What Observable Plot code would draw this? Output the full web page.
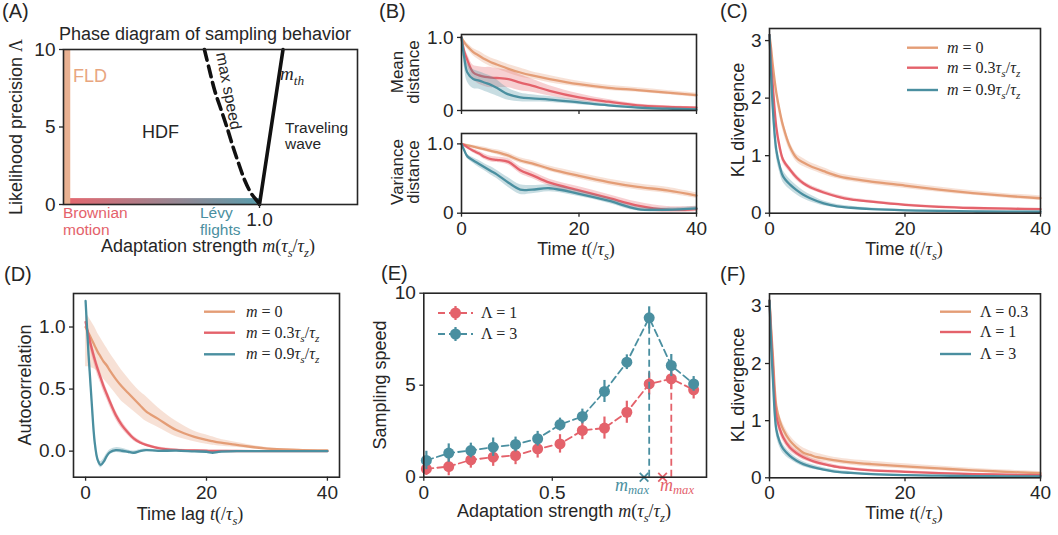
<!DOCTYPE html>
<html><head><meta charset="utf-8">
<script src="https://cdn.jsdelivr.net/npm/d3@7"></script>
<script src="https://cdn.jsdelivr.net/npm/@observablehq/plot@0.6"></script>
<style>
body{margin:0;background:#fff;}
#fig{position:relative;width:1058px;height:535px;overflow:hidden;background:#fff;}
#fig svg{position:absolute;}
</style>
</head><body><div id="fig"></div>
<script>
// ---------------- DATA ----------------
// Panel A: phase diagram
const fldM = [0, 0.037], fldLam = [0, 10];
const regimeM = [0, 1.0], regimeLam = [0, 0.38];
const maxSpeedM = [0.719, 0.745, 0.771, 0.805, 0.839, 0.865, 0.894, 0.925, 0.959, 0.993, 1.0];
const maxSpeedLam = [10, 8.66, 7.37, 6.08, 4.78, 3.71, 2.63, 1.55, 0.69, 0.15, 0];
const mthM = [1.0, 1.12], mthLam = [0, 10];

// Panel B: mean / variance distance
const tB = [0, 0.5, 1, 2, 3, 4, 5, 6, 8, 10, 12, 15, 20, 25, 30, 35, 40];
const meanD_m0 = [1.0, 0.93, 0.88, 0.80, 0.75, 0.70, 0.66, 0.63, 0.57, 0.52, 0.48, 0.43, 0.36, 0.31, 0.28, 0.245, 0.21];
const meanE_m0 = [0, 0.03, 0.04, 0.05, 0.06, 0.06, 0.06, 0.06, 0.06, 0.06, 0.05, 0.05, 0.04, 0.035, 0.03, 0.03, 0.03];
const meanD_m3 = [1.0, 0.80, 0.69, 0.52, 0.48, 0.46, 0.45, 0.445, 0.43, 0.38, 0.34, 0.27, 0.18, 0.12, 0.07, 0.05, 0.04];
const meanE_m3 = [0, 0.05, 0.08, 0.10, 0.12, 0.13, 0.14, 0.13, 0.12, 0.11, 0.09, 0.07, 0.05, 0.03, 0.02, 0.015, 0.01];
const meanD_m9 = [1.0, 0.71, 0.52, 0.43, 0.41, 0.38, 0.35, 0.31, 0.22, 0.18, 0.165, 0.15, 0.11, 0.07, 0.04, 0.025, 0.015];
const meanE_m9 = [0, 0.12, 0.13, 0.13, 0.12, 0.12, 0.12, 0.11, 0.08, 0.06, 0.05, 0.04, 0.03, 0.02, 0.015, 0.01, 0.01];
const varD_m0 = [1.0, 0.99, 0.98, 0.96, 0.94, 0.92, 0.90, 0.88, 0.83, 0.76, 0.72, 0.64, 0.54, 0.45, 0.38, 0.33, 0.255];
const varE_m0 = [0, 0.01, 0.015, 0.02, 0.025, 0.03, 0.03, 0.035, 0.04, 0.04, 0.04, 0.04, 0.045, 0.045, 0.045, 0.045, 0.04];
const varD_m3 = [1.0, 0.98, 0.95, 0.90, 0.86, 0.81, 0.78, 0.77, 0.74, 0.62, 0.55, 0.44, 0.33, 0.22, 0.11, 0.05, 0.06];
const varE_m3 = [0, 0.01, 0.02, 0.03, 0.035, 0.04, 0.04, 0.04, 0.045, 0.05, 0.05, 0.05, 0.05, 0.05, 0.05, 0.045, 0.04];
const varD_m9 = [1.0, 0.90, 0.82, 0.76, 0.71, 0.66, 0.61, 0.56, 0.44, 0.34, 0.34, 0.36, 0.28, 0.18, 0.06, 0.05, 0.07];
const varE_m9 = [0, 0.02, 0.03, 0.04, 0.05, 0.05, 0.06, 0.06, 0.07, 0.07, 0.06, 0.05, 0.04, 0.035, 0.03, 0.025, 0.025];

// Panel C: KL divergence vs m
const tC = [0, 0.25, 0.5, 1, 1.5, 2, 3, 4, 5, 6, 8, 10, 12, 15, 20, 25, 30, 35, 40];
const klC_m0 = [3.1, 2.85, 2.56, 2.1, 1.78, 1.52, 1.16, 0.96, 0.88, 0.82, 0.73, 0.65, 0.60, 0.55, 0.48, 0.41, 0.35, 0.30, 0.26];
const klCE_m0 = [0.03, 0.08, 0.1, 0.1, 0.1, 0.09, 0.08, 0.07, 0.07, 0.06, 0.06, 0.05, 0.05, 0.05, 0.05, 0.045, 0.04, 0.04, 0.04];
const klC_m3 = [3.1, 2.6, 2.2, 1.5, 1.15, 0.93, 0.76, 0.62, 0.52, 0.45, 0.36, 0.29, 0.24, 0.20, 0.145, 0.11, 0.09, 0.08, 0.07];
const klCE_m3 = [0.03, 0.08, 0.08, 0.07, 0.06, 0.06, 0.05, 0.05, 0.04, 0.04, 0.035, 0.03, 0.03, 0.025, 0.02, 0.02, 0.015, 0.015, 0.015];
const klC_m9 = [3.1, 2.4, 1.8, 1.1, 0.82, 0.64, 0.50, 0.40, 0.32, 0.26, 0.17, 0.12, 0.095, 0.07, 0.05, 0.04, 0.03, 0.027, 0.025];
const klCE_m9 = [0.03, 0.1, 0.12, 0.12, 0.11, 0.1, 0.09, 0.08, 0.07, 0.06, 0.04, 0.03, 0.025, 0.02, 0.015, 0.012, 0.01, 0.01, 0.01];

// Panel D: autocorrelation
const tD = [0, 0.5, 1, 1.5, 2, 2.5, 3, 3.5, 4, 5, 6, 7, 8, 9, 10, 12, 15, 18, 20, 21, 22, 25, 30, 35, 40];
const acD_m0 = [1.0, 0.95, 0.90, 0.85, 0.80, 0.76, 0.72, 0.69, 0.65, 0.58, 0.52, 0.47, 0.42, 0.37, 0.32, 0.26, 0.17, 0.115, 0.09, 0.08, 0.07, 0.05, 0.02, 0.01, 0.005];
const acLo_m0 = [0.68, 0.68, 0.67, 0.66, 0.64, 0.61, 0.58, 0.55, 0.52, 0.46, 0.40, 0.36, 0.32, 0.28, 0.24, 0.19, 0.115, 0.075, 0.055, 0.048, 0.042, 0.03, 0.012, 0.005, 0.002];
const acHi_m0 = [1.12, 1.08, 1.04, 1.0, 0.95, 0.91, 0.87, 0.83, 0.79, 0.72, 0.65, 0.59, 0.53, 0.48, 0.44, 0.35, 0.24, 0.16, 0.13, 0.115, 0.1, 0.07, 0.03, 0.015, 0.008];
const acD_m3 = [1.04, 0.93, 0.83, 0.74, 0.66, 0.59, 0.52, 0.46, 0.40, 0.29, 0.21, 0.15, 0.10, 0.07, 0.05, 0.025, 0.01, 0.005, 0.003, 0.002, 0.002, 0.001, 0, 0, 0];
const acE_m3 = [0.05, 0.05, 0.05, 0.05, 0.05, 0.045, 0.045, 0.04, 0.04, 0.035, 0.03, 0.025, 0.02, 0.015, 0.012, 0.01, 0.008, 0.006, 0.005, 0.005, 0.005, 0.004, 0.003, 0.003, 0.003];
const acD_m9 = [1.21, 0.77, 0.40, 0.075, -0.07, -0.11, -0.085, -0.04, -0.01, 0.008, 0.003, -0.005, -0.013, 0.0, 0.008, 0.002, 0.004, -0.002, -0.005, -0.013, -0.006, 0.0, 0.0, 0.0, 0.0];
const acE_m9 = [0.01, 0.02, 0.02, 0.02, 0.02, 0.025, 0.025, 0.02, 0.02, 0.02, 0.02, 0.015, 0.015, 0.012, 0.01, 0.008, 0.006, 0.005, 0.005, 0.005, 0.005, 0.004, 0.003, 0.003, 0.003];

// Panel E: sampling speed
const mE = [0.01, 0.097, 0.183, 0.27, 0.357, 0.443, 0.53, 0.617, 0.703, 0.79, 0.877, 0.963, 1.05];
const speedL1 = [0.45, 0.58, 0.94, 1.09, 1.18, 1.54, 1.81, 2.54, 2.67, 3.53, 5.07, 5.35, 4.75];
const speedErrL1 = [0.35, 0.5, 0.45, 0.5, 0.5, 0.5, 0.5, 0.5, 0.6, 0.6, 0.6, 0.6, 0.5];
const speedL3 = [0.91, 1.31, 1.45, 1.63, 1.78, 2.09, 2.86, 3.30, 4.66, 6.25, 8.66, 6.07, 5.07];
const speedErrL3 = [0.5, 0.5, 0.4, 0.5, 0.4, 0.4, 0.35, 0.4, 0.6, 0.4, 0.6, 0.6, 0.4];
const mmaxTheoryL1 = [0.929], mmaxTheoryL3 = [0.857];

// Panel F: KL divergence vs Lambda
const tF = [0, 0.25, 0.5, 1, 1.5, 2, 3, 4, 5, 6, 7, 8, 10, 12, 15, 20, 25, 30, 35, 40];
const klF_l03 = [3.1, 2.6, 2.14, 1.26, 1.0, 0.85, 0.65, 0.53, 0.44, 0.40, 0.36, 0.34, 0.30, 0.27, 0.24, 0.20, 0.165, 0.13, 0.105, 0.08];
const klFE_l03 = [0.05, 0.1, 0.12, 0.12, 0.11, 0.1, 0.09, 0.08, 0.08, 0.07, 0.07, 0.06, 0.05, 0.05, 0.05, 0.045, 0.04, 0.035, 0.03, 0.03];
const klF_l1 = [3.1, 2.5, 1.96, 1.09, 0.86, 0.71, 0.53, 0.43, 0.36, 0.31, 0.27, 0.24, 0.19, 0.16, 0.13, 0.105, 0.083, 0.064, 0.055, 0.047];
const klFE_l1 = [0.05, 0.1, 0.1, 0.09, 0.08, 0.07, 0.06, 0.05, 0.05, 0.04, 0.04, 0.035, 0.03, 0.025, 0.02, 0.02, 0.015, 0.015, 0.012, 0.01];
const klF_l3 = [3.1, 2.35, 1.73, 0.85, 0.63, 0.51, 0.385, 0.30, 0.24, 0.20, 0.17, 0.145, 0.105, 0.085, 0.064, 0.047, 0.037, 0.03, 0.026, 0.023];
const klFE_l3 = [0.05, 0.12, 0.12, 0.1, 0.09, 0.08, 0.06, 0.05, 0.045, 0.04, 0.035, 0.03, 0.025, 0.02, 0.015, 0.012, 0.01, 0.01, 0.008, 0.008];

// ---------------- STYLE ----------------
const ORANGE = "#e49d76", RED = "#e4626b", TEAL = "#4a8fa0", INK = "#262626";
const SANS = '"Liberation Sans", Arial, Helvetica, sans-serif';
const SERIF = '"Liberation Serif", "DejaVu Serif", serif';
const TICKFS = 19;
const fig = document.getElementById("fig");

const series = (t, v, e) => t.map((x, i) => ({t: x, v: v[i], lo: v[i] - e[i], hi: v[i] + e[i]}));
const seriesLH = (t, v, lo, hi) => t.map((x, i) => ({t: x, v: v[i], lo: lo[i], hi: hi[i]}));
const bandLine = (d, c, op = 0.3) => [
  Plot.areaY(d, {x: "t", y1: "lo", y2: "hi", fill: c, fillOpacity: op, curve: "catmull-rom"}),
  Plot.lineY(d, {x: "t", y: "v", stroke: c, strokeWidth: 2.3, curve: "catmull-rom"})
];
function place(svg, left, top) {
  svg.style.left = left + "px"; svg.style.top = top + "px";
  fig.appendChild(svg); return svg;
}
function frame() { return Plot.frame({stroke: INK, strokeWidth: 1.6}); }
function base(o) {
  return Object.assign({
    style: {fontFamily: SANS, fontSize: TICKFS + "px", color: INK, background: "transparent", overflow: "visible"}
  }, o);
}
const ax = (dir, o) => (dir === "x" ? Plot.axisX : Plot.axisY)(Object.assign({tickSize: 4, tickPadding: 4, strokeWidth: 1.3, tickFormat: d => String(d)}, o));

// ---------------- PANEL A ----------------
const fldRect = [{m1: fldM[0], m2: fldM[1], l1: fldLam[0], l2: fldLam[1]}];
const regRect = [{m1: regimeM[0], m2: regimeM[1], l1: regimeLam[0], l2: regimeLam[1]}];
const maxSpeed = maxSpeedM.map((m, i) => ({m, lam: maxSpeedLam[i]}));
const mth = mthM.map((m, i) => ({m, lam: mthLam[i]}));
const svgA = Plot.plot(base({
  width: 370, height: 260, marginLeft: 63, marginRight: 13, marginTop: 49, marginBottom: 56,
  x: {domain: [0, 1.5], label: null}, y: {domain: [0, 10], label: null},
  marks: [
    Plot.rect(regRect, {x1: "m1", x2: "m2", y1: "l1", y2: "l2", fill: "url(#gradA)"}),
    Plot.rect(fldRect, {x1: "m1", x2: "m2", y1: "l1", y2: "l2", fill: "#e9b192"}),
    Plot.line(maxSpeed, {x: "m", y: "lam", stroke: "#111", strokeWidth: 3.6, strokeDasharray: "11,6", curve: "catmull-rom"}),
    Plot.line(mth, {x: "m", y: "lam", stroke: "#111", strokeWidth: 3.6}),
    ax("y", {ticks: [0, 5, 10]}),
    ax("x", {ticks: [1.0], tickFormat: d => d.toFixed(1)}),
    frame()
  ]
}));
place(svgA, 0, 0);
{
  const defs = d3.select(svgA).insert("defs", ":first-child");
  const g = defs.append("linearGradient").attr("id", "gradA");
  g.append("stop").attr("offset", "0%").attr("stop-color", "#e8666e");
  g.append("stop").attr("offset", "100%").attr("stop-color", "#5a9dac");
}

// ---------------- PANEL B ----------------
const svgB1 = Plot.plot(base({
  width: 340, height: 120, marginLeft: 91, marginRight: 14, marginTop: 34, marginBottom: 10,
  x: {domain: [0, 40], label: null}, y: {domain: [0, 1.04], label: null},
  marks: [
    ...bandLine(series(tB, meanD_m0, meanE_m0), ORANGE),
    ...bandLine(series(tB, meanD_m3, meanE_m3), RED),
    ...bandLine(series(tB, meanD_m9, meanE_m9), TEAL),
    ax("y", {ticks: [0, 1], tickFormat: d => d === 0 ? "0" : "1.0"}),
    ax("x", {ticks: [0, 20, 40], tickFormat: () => ""}),
    frame()
  ]
}));
place(svgB1, 370, 0);
const svgB2 = Plot.plot(base({
  width: 340, height: 140, marginLeft: 91, marginRight: 14, marginTop: 13, marginBottom: 47.3,
  x: {domain: [0, 40], label: null}, y: {domain: [0, 1.15], label: null},
  marks: [
    ...bandLine(series(tB, varD_m0, varE_m0), ORANGE),
    ...bandLine(series(tB, varD_m3, varE_m3), RED),
    ...bandLine(series(tB, varD_m9, varE_m9), TEAL),
    ax("y", {ticks: [0, 1], tickFormat: d => d === 0 ? "0" : "1.0"}),
    ax("x", {ticks: [0, 20, 40]}),
    frame()
  ]
}));
place(svgB2, 370, 120);

// ---------------- PANEL C ----------------
place(Plot.plot(base({
  width: 348, height: 260, marginLeft: 59, marginRight: 18, marginTop: 28, marginBottom: 47.3,
  x: {domain: [0, 40], label: null}, y: {domain: [0, 3.21], label: null},
  marks: [
    ...bandLine(series(tC, klC_m0, klCE_m0), ORANGE),
    ...bandLine(series(tC, klC_m3, klCE_m3), RED),
    ...bandLine(series(tC, klC_m9, klCE_m9), TEAL),
    ax("y", {ticks: [0, 1, 2, 3]}),
    ax("x", {ticks: [0, 20, 40]}),
    frame()
  ]
})), 710, 0);

// ---------------- PANEL D ----------------
place(Plot.plot(base({
  width: 370, height: 275, marginLeft: 73, marginRight: 31, marginTop: 33, marginBottom: 58.3,
  x: {domain: [-2, 42], label: null}, y: {domain: [-0.21, 1.27], label: null},
  marks: [
    ...bandLine(seriesLH(tD, acD_m0, acLo_m0, acHi_m0), ORANGE),
    ...bandLine(series(tD, acD_m3, acE_m3), RED),
    ...bandLine(series(tD, acD_m9, acE_m9), TEAL),
    ax("y", {ticks: [0, 0.5, 1.0], tickFormat: d3.format(".1f")}),
    ax("x", {ticks: [0, 20, 40]}),
    frame()
  ]
})), 0, 260);

// ---------------- PANEL E ----------------
const ptsE = (s, e) => mE.map((m, i) => ({m, s: s[i], lo: s[i] - e[i], hi: s[i] + e[i]}));
const peak = d => d.reduce((a, b) => (b.s > a.s ? b : a));
const e1 = ptsE(speedL1, speedErrL1), e3 = ptsE(speedL3, speedErrL3);
const speedMarks = (d, c) => [
  Plot.line(d, {x: "m", y: "s", stroke: c, strokeWidth: 1.8, strokeDasharray: "7,4"}),
  Plot.ruleX(d, {x: "m", y1: "lo", y2: "hi", stroke: c, strokeWidth: 2.2}),
  Plot.dot(d, {x: "m", y: "s", r: 5.5, fill: c}),
  Plot.ruleX([peak(d)], {x: "m", y1: () => 0, y2: "s", stroke: c, strokeWidth: 1.8, strokeDasharray: "7,4"})
];
place(Plot.plot(base({
  width: 340, height: 275, marginLeft: 53.3, marginRight: 4, marginTop: 32.7, marginBottom: 58.3,
  x: {domain: [0, 1.1], label: null}, y: {domain: [0, 10], label: null},
  marks: [
    ...speedMarks(e1, RED),
    ...speedMarks(e3, TEAL),
    Plot.dot(mmaxTheoryL3.map(m => ({m})), {x: "m", y: () => 0, symbol: "times", r: 4, stroke: TEAL, strokeWidth: 1.8}),
    Plot.dot(mmaxTheoryL1.map(m => ({m})), {x: "m", y: () => 0, symbol: "times", r: 4, stroke: RED, strokeWidth: 1.8}),
    ax("y", {ticks: [0, 5, 10]}),
    ax("x", {ticks: [0, 0.5], tickFormat: d => d === 0 ? "0" : "0.5"}),
    frame()
  ]
})), 370, 260);

// ---------------- PANEL F ----------------
place(Plot.plot(base({
  width: 348, height: 275, marginLeft: 59, marginRight: 18, marginTop: 33.3, marginBottom: 57.7,
  x: {domain: [0, 40], label: null}, y: {domain: [0, 3.22], label: null},
  marks: [
    ...bandLine(series(tF, klF_l03, klFE_l03), ORANGE, 0.3),
    ...bandLine(series(tF, klF_l1, klFE_l1), RED, 0.3),
    ...bandLine(series(tF, klF_l3, klFE_l3), TEAL, 0.3),
    ax("y", {ticks: [0, 1, 2, 3]}),
    ax("x", {ticks: [0, 20, 40]}),
    frame()
  ]
})), 710, 260);

// ---------------- TEXT OVERLAY ----------------
const ov = d3.select(fig).append("svg").attr("width", 1058).attr("height", 535)
  .style("left", "0px").style("top", "0px").style("pointer-events", "none");
function txt(x, y, parts, o = {}) {
  const size = o.size || 18;
  const sub = o.sub != null ? o.sub : 0.25;
  const t = ov.append("text").attr("x", x).attr("y", y).attr("font-size", size)
    .attr("fill", o.color || INK).attr("font-family", SANS).attr("text-anchor", o.anchor || "start");
  if (o.rotate != null) t.attr("transform", `rotate(${o.rotate},${x},${y})`);
  let shift = 0;
  for (const p of parts) {
    const s = Array.isArray(p) ? p[0] : p;
    const f = (Array.isArray(p) && p[1]) ? p[1] : "";
    const sp = t.append("tspan").text(s);
    if (f.includes("m")) sp.attr("font-family", SERIF);
    if (f.includes("i")) sp.attr("font-style", "italic");
    const want = f.includes("_") ? sub : 0;
    if (want !== shift) sp.attr("dy", ((want - shift) * size).toFixed(2));
    shift = want;
    if (f.includes("_")) sp.attr("font-size", (size * 0.7).toFixed(1));
  }
  return t;
}
const timeLabel = [["Time "], ["t", "mi"], ["(/", "m"], ["τ", "mi"], ["s", "mi_"], [")", "m"]];
const adaptLabel = [["Adaptation strength "], ["m", "mi"], ["(", "m"], ["τ", "mi"], ["s", "mi_"], ["/", "m"], ["τ", "mi"], ["z", "mi_"], [")", "m"]];
const mLab = v => v === "0" ? [["m", "mi"], [" = 0", "m"]] :
  [["m", "mi"], [" = " + v, "m"], ["τ", "mi"], ["s", "mi_"], ["/", "m"], ["τ", "mi"], ["z", "mi_"]];

// panel letters
txt(2, 18, ["(A)"], {size: 20}); txt(379, 18, ["(B)"], {size: 20}); txt(720, 18, ["(C)"], {size: 20});
txt(4, 281, ["(D)"], {size: 20}); txt(381, 280, ["(E)"], {size: 20}); txt(720, 281, ["(F)"], {size: 20});

// Panel A texts
txt(205, 40, ["Phase diagram of sampling behavior"], {size: 18, anchor: "middle"});
txt(22, 127, [["Likelihood precision "], ["Λ", "m"]], {size: 18, anchor: "middle", rotate: -90});
txt(208, 252, adaptLabel, {size: 18, anchor: "middle"});
txt(73, 82, ["FLD"], {size: 18, color: "#e8a67f"});
txt(142, 138, ["HDF"], {size: 18});
txt(223.5, 92, ["max speed"], {size: 16, anchor: "middle", rotate: 79});
txt(280, 80, [["m", "mi"], ["th", "mi_"]], {size: 19});
txt(285, 133, ["Traveling"], {size: 15.5});
txt(285, 149, ["wave"], {size: 15.5});
txt(63, 218, ["Brownian"], {size: 15.5, color: RED});
txt(63, 235, ["motion"], {size: 15.5, color: RED});
txt(200, 218, ["Lévy"], {size: 15.5, color: TEAL});
txt(200, 235, ["flights"], {size: 15.5, color: TEAL});

// Panel B texts
txt(403, 72, ["Mean"], {size: 17, anchor: "middle", rotate: -90});
txt(419, 72, ["distance"], {size: 17, anchor: "middle", rotate: -90});
txt(403, 172, ["Variance"], {size: 17, anchor: "middle", rotate: -90});
txt(419, 172, ["distance"], {size: 17, anchor: "middle", rotate: -90});
txt(576, 255, timeLabel, {size: 18, anchor: "middle"});

// Panel C texts
txt(744, 120, ["KL divergence"], {size: 18, anchor: "middle", rotate: -90});
txt(904, 255, timeLabel, {size: 18, anchor: "middle"});
function legendLines(x, ys, cols, labels, tx) {
  ys.forEach((y, i) => {
    ov.append("line").attr("x1", x).attr("x2", x + 31).attr("y1", y).attr("y2", y)
      .attr("stroke", cols[i]).attr("stroke-width", 2.4);
    txt(tx, y + 5, labels[i], {size: 16});
  });
}
legendLines(907, [47.7, 67.7, 90], [ORANGE, RED, TEAL], [mLab("0"), mLab("0.3"), mLab("0.9")], 947);

// Panel D texts
txt(31, 385, ["Autocorrelation"], {size: 18, anchor: "middle", rotate: -90});
txt(190, 520, [["Time lag "], ["t", "mi"], ["(/", "m"], ["τ", "mi"], ["s", "mi_"], [")", "m"]], {size: 18, anchor: "middle"});
legendLines(204, [311.7, 332.7, 354.3], [ORANGE, RED, TEAL], [mLab("0"), mLab("0.3"), mLab("0.9")], 246);

// Panel E texts
txt(386, 385, ["Sampling speed"], {size: 18, anchor: "middle", rotate: -90});
txt(564, 517, adaptLabel, {size: 18, anchor: "middle"});
[[313, RED, "Λ = 1"], [334, TEAL, "Λ = 3"]].forEach(([y, c, lab]) => {
  ov.append("line").attr("x1", 438).attr("x2", 473).attr("y1", y).attr("y2", y)
    .attr("stroke", c).attr("stroke-width", 1.8).attr("stroke-dasharray", "7,4");
  ov.append("line").attr("x1", 455.5).attr("x2", 455.5).attr("y1", y - 7).attr("y2", y + 7)
    .attr("stroke", c).attr("stroke-width", 2.2);
  ov.append("circle").attr("cx", 455.5).attr("cy", y).attr("r", 5.5).attr("fill", c);
  txt(481, y + 5, [[lab, "m"]], {size: 16});
});
txt(615, 491, [["m", "mi"], ["max", "mi_"]], {size: 18, color: TEAL, sub: 0.18});
txt(660, 491, [["m", "mi"], ["max", "mi_"]], {size: 18, color: RED, sub: 0.18});

// Panel F texts
txt(744, 385, ["KL divergence"], {size: 18, anchor: "middle", rotate: -90});
txt(904, 519, timeLabel, {size: 18, anchor: "middle"});
legendLines(940, [311.7, 332, 354], [ORANGE, RED, TEAL],
  [[["Λ = 0.3", "m"]], [["Λ = 1", "m"]], [["Λ = 3", "m"]]], 980);
</script>
</body></html>
